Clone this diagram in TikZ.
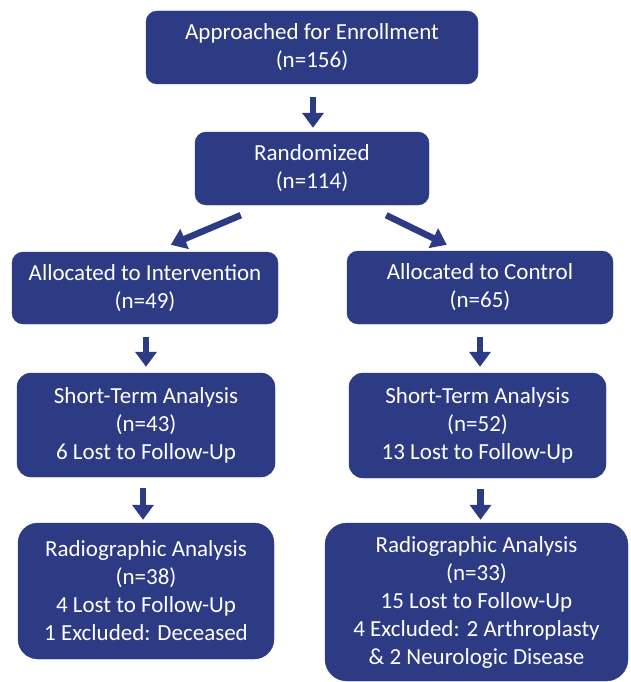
\documentclass[tikz,border=0pt]{standalone}
\usepackage{fontspec}
\setmainfont{Carlito}
\usetikzlibrary{arrows.meta,calc}
\definecolor{navy}{RGB}{45,58,132}
\tikzset{
  box/.style={fill=navy, draw=navy, text=white, align=center, inner sep=0pt,
    font=\fontsize{23}{28}\selectfont, rounded corners=#1},
  box/.default=11pt,
  arr/.style={draw=navy, line width=6.5pt, -{Triangle[width=21pt,length=15pt]}, fill=navy}
}
\begin{document}
\begin{tikzpicture}[x=1pt,y=-1pt]
\useasboundingbox (0,0) rectangle (630,682);
\node[box, minimum width=332pt, minimum height=73pt] (b1) at (312,47.5) {Approached for Enrollment\\(n=156)};
\node[box, minimum width=234pt, minimum height=73pt] (b2) at (312,168.5) {Randomized\\(n=114)};
\node[box, minimum width=266pt, minimum height=72pt] (b3l) at (145,288) {Allocated to Intervention\\(n=49)};
\node[box, minimum width=266pt, minimum height=73pt] (b3r) at (480,287.5) {Allocated to Control\\(n=65)};
\node[box=14pt, minimum width=258pt, minimum height=104pt] (b4l) at (146,425) {Short-Term Analysis\\(n=43)\\6 Lost to Follow-Up};
\node[box=14pt, minimum width=257pt, minimum height=105pt] (b4r) at (477.5,425.5) {Short-Term Analysis\\(n=52)\\13 Lost to Follow-Up};
\node[box=20pt, minimum width=256pt, minimum height=136pt] (b5l) at (146,591) {Radiographic Analysis\\(n=38)\\4 Lost to Follow-Up\\1 Excluded: Deceased};
\node[box=22pt, minimum width=303pt, minimum height=158pt] (b5r) at (476.5,602) {Radiographic Analysis\\(n=33)\\15 Lost to Follow-Up\\4 Excluded: 2 Arthroplasty\\\& 2 Neurologic Disease};
\coordinate (c1) at ([xshift=1pt]b1.south);
\coordinate (c3l) at ([xshift=1pt]b3l.south);
\coordinate (c4l) at ([xshift=-3pt]b4l.south);
\coordinate (c4r) at ([xshift=3pt]b4r.south);
\draw[arr] ([yshift=-13pt]c1) -- ([yshift=4pt]c1 |- b2.north);
\draw[arr] ([shift={(46pt,-10pt)}]b2.south west) -- ([shift={(159pt,7pt)}]b3l.north west);
\draw[arr] ([shift={(-43pt,-10pt)}]b2.south east) -- ([shift={(100pt,6pt)}]b3r.north west);
\draw[arr] ([yshift=-13pt]c3l) -- ([yshift=6pt]c3l |- b4l.north);
\draw[arr] ([yshift=-13pt]b3r.south) -- ([yshift=6pt]b3r.south |- b4r.north);
\draw[arr] ([yshift=-11pt]c4l) -- ([yshift=3pt]c4l |- b5l.north);
\draw[arr] ([yshift=-11pt]c4r) -- ([yshift=3pt]c4r |- b5r.north);
\end{tikzpicture}
\end{document}
